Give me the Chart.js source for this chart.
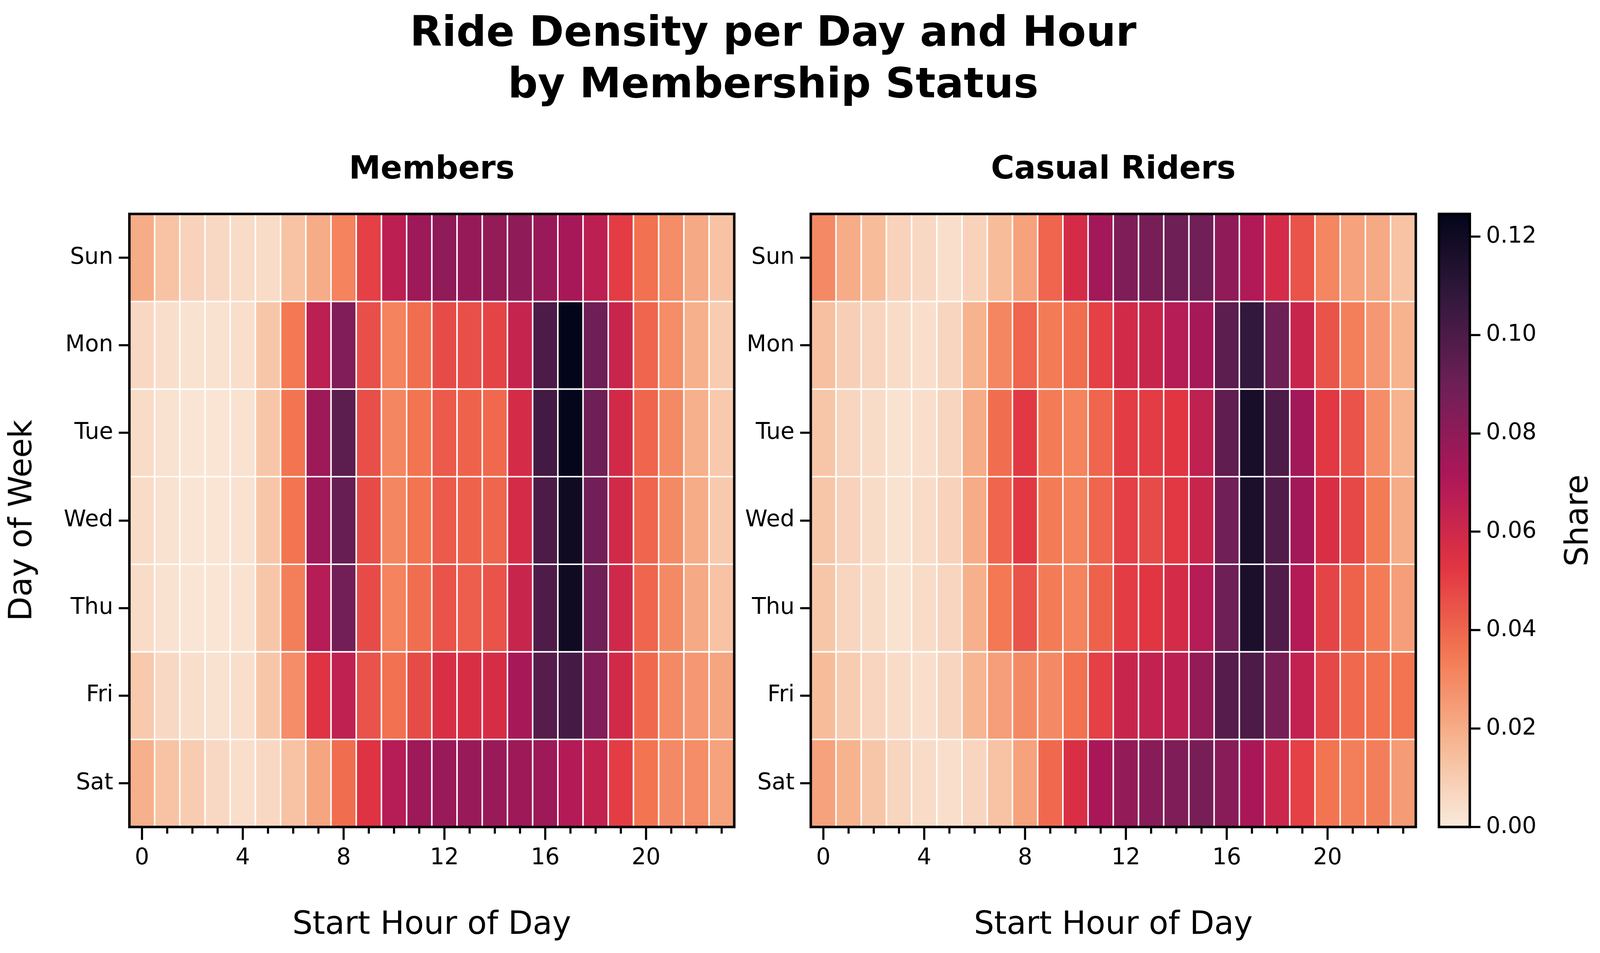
<!DOCTYPE html>
<html>
<head>
<meta charset="utf-8">
<script src="https://cdn.jsdelivr.net/npm/chart.js@4.4.1/dist/chart.umd.min.js"></script>
<style>
  html, body { margin: 0; padding: 0; background: #fff; overflow: hidden; }
  #fig { position: relative; overflow: hidden; font-family: 'DejaVu Sans'; color: #000; background: #fff; }
  canvas { position: absolute; top: 0; }
  .txt { position: absolute; white-space: nowrap; }
</style>
</head>
<body>
<div id="fig">
  <canvas id="members"></canvas>
  <canvas id="casual"></canvas>
  <canvas id="cbar"></canvas>
</div>

<script>
// ---------- data ----------
const days = ['Sun', 'Mon', 'Tue', 'Wed', 'Thu', 'Fri', 'Sat'];
const hours = ['0', '1', '2', '3', '4', '5', '6', '7', '8', '9', '10', '11',
               '12', '13', '14', '15', '16', '17', '18', '19', '20', '21', '22', '23'];
const hourTicks = ['0', '4', '8', '12', '16', '20'];
const shareTicks = [0, 0.02, 0.04, 0.06, 0.08, 0.10, 0.12];
const shareMax = 0.1246;

// share of a day's rides per start hour (rows Sun..Sat)
const memberShare = [
  [0.020, 0.013, 0.008, 0.006, 0.005, 0.005, 0.013, 0.020, 0.032, 0.050, 0.066, 0.076, 0.080, 0.078, 0.079, 0.080, 0.077, 0.073, 0.066, 0.051, 0.037, 0.029, 0.021, 0.013],
  [0.006, 0.004, 0.003, 0.003, 0.004, 0.012, 0.035, 0.066, 0.084, 0.046, 0.032, 0.038, 0.047, 0.046, 0.049, 0.063, 0.100, 0.1245, 0.090, 0.062, 0.040, 0.029, 0.019, 0.010],
  [0.005, 0.003, 0.002, 0.002, 0.003, 0.012, 0.036, 0.076, 0.095, 0.046, 0.031, 0.036, 0.043, 0.041, 0.039, 0.058, 0.103, 0.124, 0.090, 0.059, 0.040, 0.030, 0.019, 0.011],
  [0.005, 0.003, 0.002, 0.002, 0.003, 0.012, 0.036, 0.075, 0.092, 0.047, 0.031, 0.036, 0.043, 0.041, 0.040, 0.058, 0.100, 0.120, 0.088, 0.059, 0.040, 0.030, 0.020, 0.011],
  [0.005, 0.003, 0.002, 0.002, 0.003, 0.012, 0.033, 0.068, 0.088, 0.047, 0.032, 0.038, 0.045, 0.042, 0.045, 0.062, 0.099, 0.120, 0.089, 0.060, 0.040, 0.030, 0.021, 0.013],
  [0.011, 0.006, 0.004, 0.003, 0.004, 0.012, 0.029, 0.054, 0.065, 0.045, 0.037, 0.047, 0.056, 0.056, 0.057, 0.073, 0.097, 0.102, 0.084, 0.059, 0.039, 0.030, 0.026, 0.022],
  [0.019, 0.013, 0.010, 0.006, 0.004, 0.006, 0.013, 0.022, 0.038, 0.054, 0.068, 0.076, 0.077, 0.077, 0.077, 0.076, 0.076, 0.069, 0.064, 0.051, 0.036, 0.030, 0.029, 0.023]
];
const casualShare = [
  [0.030, 0.020, 0.015, 0.008, 0.006, 0.004, 0.008, 0.015, 0.023, 0.040, 0.058, 0.074, 0.085, 0.087, 0.090, 0.089, 0.080, 0.070, 0.058, 0.045, 0.031, 0.023, 0.021, 0.013],
  [0.014, 0.009, 0.007, 0.005, 0.004, 0.007, 0.018, 0.031, 0.040, 0.034, 0.038, 0.050, 0.059, 0.062, 0.068, 0.073, 0.095, 0.108, 0.090, 0.062, 0.045, 0.033, 0.026, 0.018],
  [0.012, 0.007, 0.005, 0.003, 0.004, 0.007, 0.020, 0.038, 0.052, 0.034, 0.032, 0.040, 0.051, 0.051, 0.053, 0.065, 0.094, 0.117, 0.100, 0.074, 0.052, 0.045, 0.029, 0.018],
  [0.012, 0.008, 0.005, 0.003, 0.005, 0.008, 0.020, 0.040, 0.052, 0.034, 0.032, 0.040, 0.050, 0.047, 0.052, 0.062, 0.089, 0.116, 0.098, 0.074, 0.056, 0.048, 0.034, 0.020],
  [0.012, 0.007, 0.005, 0.003, 0.005, 0.007, 0.019, 0.035, 0.045, 0.034, 0.032, 0.041, 0.051, 0.053, 0.058, 0.068, 0.090, 0.116, 0.098, 0.069, 0.049, 0.041, 0.034, 0.024],
  [0.015, 0.010, 0.007, 0.005, 0.004, 0.007, 0.017, 0.024, 0.030, 0.030, 0.037, 0.050, 0.062, 0.064, 0.066, 0.079, 0.097, 0.100, 0.087, 0.064, 0.048, 0.039, 0.037, 0.036],
  [0.023, 0.018, 0.012, 0.007, 0.005, 0.004, 0.007, 0.013, 0.023, 0.039, 0.056, 0.072, 0.079, 0.082, 0.085, 0.087, 0.082, 0.072, 0.061, 0.050, 0.036, 0.033, 0.033, 0.025]
];

// ---------- layout: designed at 4977x2439, stretched to the real viewport ----------
const W = window.innerWidth, H = window.innerHeight;
const sx = W / 4977, sy = H / 2439, sf = Math.sqrt(sx * sy);
const X = v => v * sx, Y = v => v * sy, F = v => v * sf;

const fig = document.getElementById('fig');
fig.style.width = W + 'px';
fig.style.height = H + 'px';

// text placed by its baseline (DejaVu: baseline sits 0.846em below the top of a 1em line box)
function addText(str, cx, baseline, size, bold) {
  const d = document.createElement('div');
  d.className = 'txt';
  d.textContent = str;
  d.style.fontSize = size + 'px';
  d.style.lineHeight = size + 'px';
  d.style.fontWeight = bold ? 'bold' : 'normal';
  d.style.left = cx + 'px';
  d.style.top = (baseline - 0.846 * size) + 'px';
  d.style.transform = 'translateX(-50%)';
  fig.appendChild(d);
}
function addVertText(str, baselineX, cy, size) {
  const d = document.createElement('div');
  d.className = 'txt';
  d.textContent = str;
  d.style.fontSize = size + 'px';
  d.style.lineHeight = size + 'px';
  d.style.left = (baselineX - 0.346 * size) + 'px';
  d.style.top = cy + 'px';
  d.style.transform = 'translate(-50%, -50%) rotate(-90deg)';
  fig.appendChild(d);
}

addText('Ride Density per Day and Hour', X(2405), Y(118), F(118), true);
addText('by Membership Status', X(2405), Y(250), F(118), true);
addText('Members', X(1343), Y(457), F(90), true);
addText('Casual Riders', X(3463), Y(457), F(90), true);
addText('Start Hour of Day', X(1343), Y(2390), F(90), false);
addText('Start Hour of Day', X(3463), Y(2390), F(90), false);
addVertText('Day of Week', X(98), Y(1332), F(90));
addVertText('Share', X(4939), Y(1332), F(90));

function placeCanvas(id, left, right) {
  const c = document.getElementById(id);
  const l = Math.round(left), w = Math.round(right) - l;
  c.width = w; c.height = H;
  c.style.left = l + 'px';
  c.style.width = w + 'px';
  c.style.height = H + 'px';
  return { c, l, w };
}

// ---------- colour map (rocket, used reversed) ----------
const rocket = [
  [0, '#03051a'], [1 / 7, '#35193e'], [2 / 7, '#701f57'], [3 / 7, '#ad1759'],
  [4 / 7, '#e13342'], [5 / 7, '#f37651'], [6 / 7, '#f6b48f'], [1, '#faebdd']
];
const hexRgb = h => [1, 3, 5].map(i => parseInt(h.slice(i, i + 2), 16));

function shareColor(v) {
  const p = 1 - Math.min(Math.max(v / shareMax, 0), 1);
  for (let i = 1; i < rocket.length; i++) {
    if (p <= rocket[i][0]) {
      const [p0, c0] = rocket[i - 1];
      const [p1, c1] = rocket[i];
      const f = (p - p0) / (p1 - p0);
      const a = hexRgb(c0), b = hexRgb(c1);
      const rgb = a.map((x, k) => Math.round(x + (b[k] - x) * f));
      return `rgb(${rgb.join(',')})`;
    }
  }
  return rocket[rocket.length - 1][1];
}

Chart.defaults.font.family = 'DejaVu Sans';
Chart.defaults.color = '#000';

// black frame round the plot area
const frame = {
  id: 'frame',
  afterDraw(chart) {
    const { ctx, chartArea: a } = chart;
    ctx.save();
    ctx.strokeStyle = '#000';
    ctx.lineWidth = F(7);
    ctx.strokeRect(a.left, a.top, a.right - a.left, a.bottom - a.top);
    ctx.restore();
  }
};

// hour ticks: long at labelled hours, short in between
const hourMarks = {
  id: 'hourMarks',
  afterDraw(chart) {
    const { ctx, chartArea: a, scales } = chart;
    ctx.save();
    ctx.strokeStyle = '#000';
    ctx.lineWidth = F(6);
    hours.forEach((h, i) => {
      const x = scales.x.getPixelForTick(i);
      const len = hourTicks.includes(h) ? Y(33) : Y(17);
      ctx.beginPath();
      ctx.moveTo(x, a.bottom);
      ctx.lineTo(x, a.bottom + len);
      ctx.stroke();
    });
    ctx.restore();
  }
};

function makeHeatmap(id, shares, plotLeft, plotRight, canvasLeft, canvasRight) {
  const { c, l, w } = placeCanvas(id, canvasLeft, canvasRight);
  return new Chart(c, {
    type: 'bar',
    data: {
      labels: hours,
      datasets: days.map((day, r) => ({
        label: day,
        data: hours.map(() => [r, r + 1]),
        backgroundColor: shares[r].map(shareColor),
        borderColor: '#ffffff',
        borderWidth: F(2.5),
        borderSkipped: false,
        grouped: false,
        barPercentage: 1,
        categoryPercentage: 1
      }))
    },
    options: {
      responsive: false,
      animation: false,
      devicePixelRatio: 1,
      layout: { padding: { top: Y(547.5), right: l + w - plotRight, bottom: 0, left: 0 } },
      plugins: { legend: { display: false }, tooltip: { enabled: false } },
      scales: {
        x: {
          grid: { drawOnChartArea: false, tickLength: Y(33), tickColor: 'rgba(0,0,0,0)' },
          border: { display: false },
          ticks: {
            autoSkip: false, maxRotation: 0, padding: Y(13),
            font: { size: F(64) },
            callback: (v, i) => (hourTicks.includes(hours[i]) ? hours[i] : '')
          },
          afterFit: s => { s.height = H - Y(2116.5); }
        },
        y: {
          min: 0, max: 7, reverse: true,
          afterBuildTicks: s => { s.ticks = days.map((d, i) => ({ value: i + 0.5 })); },
          grid: { drawOnChartArea: false, tickLength: X(33), tickWidth: F(6), tickColor: '#000' },
          border: { display: false },
          ticks: { padding: X(17.5), font: { size: F(64) }, callback: (v, i) => days[i] },
          afterFit: s => { s.width = plotLeft - l; }
        }
      }
    },
    plugins: [frame, hourMarks]
  });
}

makeHeatmap('members', memberShare, X(402.5), X(2284), 0, X(2300));
makeHeatmap('casual', casualShare, X(2522), X(4404), X(2300), X(4440));

// ---------- colour bar ----------
const cb = placeCanvas('cbar', X(4440), W);
new Chart(cb.c, {
  type: 'bar',
  data: {
    labels: ['Share'],
    datasets: [{
      data: [[0, shareMax]],
      backgroundColor: c => {
        const a = c.chart.chartArea;
        if (!a) return '#000';
        const g = c.chart.ctx.createLinearGradient(0, a.bottom, 0, a.top);
        for (let i = 0; i <= 40; i++) g.addColorStop(i / 40, shareColor(shareMax * i / 40));
        return g;
      },
      borderWidth: 0,
      barPercentage: 1,
      categoryPercentage: 1
    }]
  },
  options: {
    responsive: false,
    animation: false,
    devicePixelRatio: 1,
    layout: { padding: { top: Y(547.5), right: 0, bottom: H - Y(2116.5), left: X(4476) - cb.l } },
    plugins: { legend: { display: false }, tooltip: { enabled: false } },
    scales: {
      x: { display: false },
      y: {
        position: 'right', min: 0, max: shareMax,
        afterBuildTicks: s => { s.ticks = shareTicks.map(v => ({ value: v })); },
        grid: { drawOnChartArea: false, tickLength: X(33), tickWidth: F(6), tickColor: '#000' },
        border: { display: false },
        ticks: { padding: X(17.5), font: { size: F(64) }, callback: v => v.toFixed(2) },
        afterFit: s => { s.width = W - X(4572); }
      }
    }
  },
  plugins: [frame]
});
</script>
</body>
</html>
